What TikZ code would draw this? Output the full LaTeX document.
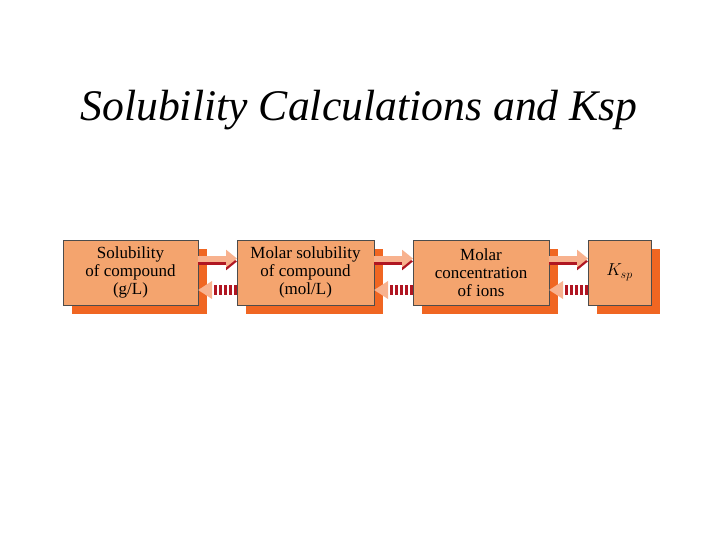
\documentclass[tikz,border=0pt]{standalone}
\usepackage{fontspec}
\setmainfont{Liberation Serif}
\usetikzlibrary{positioning,arrows.meta,shadows}
\definecolor{boxfill}{RGB}{244,164,110}
\definecolor{boxshade}{RGB}{240,102,34}
\definecolor{arrowlight}{RGB}{248,178,142}
\definecolor{arrowdark}{RGB}{176,22,34}

\begin{document}
\begin{tikzpicture}[x=1pt,y=-1pt]
\tikzstyle{every node}=[inner sep=0pt,outer sep=0pt]
\tikzstyle{stage}=[draw=black!70,fill=boxfill,minimum height=65pt,align=center,
  font=\fontsize{17}{18}\selectfont,
  drop shadow={shadow xshift=9pt,shadow yshift=-9pt,fill=boxshade,opacity=1}]
\tikzstyle{fwd}=[draw=arrowlight,line width=6pt,-{Triangle[length=11pt,width=17pt]}]
\tikzstyle{fwdshade}=[draw=arrowdark,line width=6pt,-{Triangle[length=11pt,width=17pt]}]
\tikzstyle{back}=[draw=arrowdark,line width=10pt,dash pattern=on 3pt off 2pt,
  -{Triangle[length=14pt,width=17pt,color=arrowlight,fill=arrowlight]}]
\useasboundingbox (0,0) rectangle (719,539);

\node[font=\fontsize{43.7}{50}\selectfont\itshape] (title) at (359,110)
  {Solubility Calculations and Ksp};

\node[stage,minimum width=135pt] (sol) at (130.5,272.5) {Solubility\\of compound\\(g/L)};
\node[stage,minimum width=137pt,right=39pt of sol] (molar) {Molar solubility\\of compound\\(mol/L)};
\node[stage,minimum width=136pt,right=39pt of molar] (ions) {Molar\\concentration\\of ions};
\node[stage,minimum width=63pt,right=39pt of ions] (ksp) {$K_{sp}$};

% forward arrows
\draw[fwdshade] ([yshift=11pt]sol.east) -- ([yshift=11pt]molar.west);
\draw[fwd] ([yshift=14pt]sol.east) -- ([yshift=14pt]molar.west);
\draw[fwdshade] ([yshift=11pt]molar.east) -- ([yshift=11pt]ions.west);
\draw[fwd] ([yshift=14pt]molar.east) -- ([yshift=14pt]ions.west);
\draw[fwdshade] ([yshift=11pt]ions.east) -- ([yshift=11pt]ksp.west);
\draw[fwd] ([yshift=14pt]ions.east) -- ([yshift=14pt]ksp.west);

% backward arrows
\draw[back] ([yshift=-17.5pt]molar.west) -- ([yshift=-17.5pt]sol.east);
\draw[back] ([yshift=-17.5pt]ions.west) -- ([yshift=-17.5pt]molar.east);
\draw[back] ([yshift=-17.5pt]ksp.west) -- ([yshift=-17.5pt]ions.east);
\end{tikzpicture}
\end{document}
